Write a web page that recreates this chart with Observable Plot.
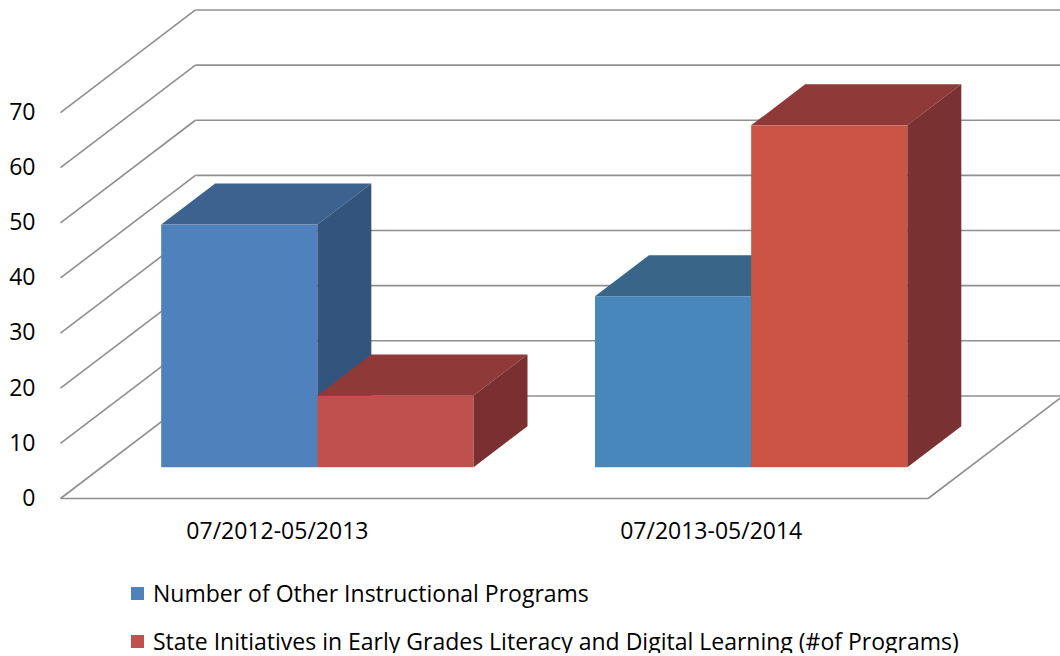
<!DOCTYPE html>
<html>
<head>
<meta charset="utf-8">
<script src="https://cdn.jsdelivr.net/npm/d3@7"></script>
<script src="https://cdn.jsdelivr.net/npm/@observablehq/plot@0.6"></script>
<style>
  html, body { margin: 0; padding: 0; background: #fff; }
  #chart { width: 1060px; }
  #chart svg { display: block; }
  .legend { padding-left: 131px; font-family: "Open Sans", sans-serif; font-size: 23px; color: #000; }
  .legend .item { height: 24px; line-height: 24px; display: flex; align-items: center; white-space: nowrap; }
  .legend .sw { width: 13px; height: 13px; margin-right: 9px; flex: none; }
</style>
</head>
<body>
<div id="chart"></div>
<script>
// ---- data ----
const categories = ["07/2012-05/2013", "07/2013-05/2014"];
const seriesNames = [
  "Number of Other Instructional Programs",
  "State Initiatives in Early Grades Literacy and Digital Learning (#of Programs)"
];
const otherPrograms = [44, 31];
const stateInitiatives = [13, 62];
const yTicks = [0, 10, 20, 30, 40, 50, 60, 70];

// ---- styling ----
const seriesColors = [
  {front: ["#4F81BD", "#4887BC"], top: ["#3D6290", "#386588"], side: ["#33557D", "#33557D"]},
  {front: ["#C0504D", "#CB5444"], top: ["#8F3A38", "#8F3A38"], side: ["#7A3030", "#7A3131"]}
];
const legendColors = ["#4F81BD", "#C0504D"];
const legendGaps = [21, 24];

// oblique projection: depth z in [0,1] (0 = front plane, 1 = back wall)
const depthX = 0.311;   // category units per unit of depth
const depthY = 18.6;    // value units per unit of depth
const barZ0 = 0.3, barZ1 = 0.7;
const barWidth = 0.36, barGap = 0.14;
const px = (x, z) => x + z * depthX;
const py = (y, z) => y + z * depthY;

const nCat = categories.length;
const values = [otherPrograms, stateInitiatives];

// walls
const leftWall = yTicks.map(v => ({x1: px(0, 0), y1: py(v, 0), x2: px(0, 1), y2: py(v, 1)}));
const backWall = yTicks.map(v => ({x1: px(0, 1), y1: py(v, 1), x2: px(nCat, 1), y2: py(v, 1)}));
const floorEdges = [
  {x1: px(0, 0), y1: py(0, 0), x2: px(nCat, 0), y2: py(0, 0)},
  {x1: px(nCat, 0), y1: py(0, 0), x2: px(nCat, 1), y2: py(0, 1)}
];

const gridStyle = {stroke: "#8f8f8f", strokeWidth: 1.6};
const marks = [
  Plot.link(leftWall, {x1: "x1", y1: "y1", x2: "x2", y2: "y2", ...gridStyle}),
  Plot.link(backWall, {x1: "x1", y1: "y1", x2: "x2", y2: "y2", ...gridStyle}),
  Plot.link(floorEdges, {x1: "x1", y1: "y1", x2: "x2", y2: "y2", ...gridStyle})
];

// bars (drawn category by category, series by series, for correct overlap)
for (let i = 0; i < nCat; i++) {
  for (let s = 0; s < values.length; s++) {
    const v = values[s][i];
    const xa = i + barGap + s * barWidth;
    const xb = xa + barWidth;
    const c = seriesColors[s];
    const front = [{x1: px(xa, barZ0), x2: px(xb, barZ0), y1: py(0, barZ0), y2: py(v, barZ0)}];
    const top = [
      {y: py(v, barZ0), x1: px(xa, barZ0), x2: px(xb, barZ0)},
      {y: py(v, barZ1), x1: px(xa, barZ1), x2: px(xb, barZ1)}
    ];
    const side = [
      {x: px(xb, barZ0), y1: py(0, barZ0), y2: py(v, barZ0)},
      {x: px(xb, barZ1), y1: py(0, barZ1), y2: py(v, barZ1)}
    ];
    marks.push(
      Plot.rect(front, {x1: "x1", x2: "x2", y1: "y1", y2: "y2", fill: c.front[i]}),
      Plot.areaX(top, {y: "y", x1: "x1", x2: "x2", fill: c.top[i]}),
      Plot.areaY(side, {x: "x", y1: "y1", y2: "y2", fill: c.side[i]})
    );
  }
}

const chart = Plot.plot({
  width: 1060,
  height: 560,
  marginLeft: 60,
  marginRight: 0,
  marginTop: 0,
  marginBottom: 62,
  style: {fontFamily: "'Open Sans', sans-serif", fontSize: "23px", color: "#000", background: "#fff", overflow: "hidden"},
  x: {
    domain: [0, px(nCat, 1)],
    range: [60, 60 + px(nCat, 1) * 433.8],
    ticks: categories.map((c, i) => i + 0.5),
    tickFormat: d => categories[Math.floor(d)],
    tickSize: 0,
    tickPadding: 24,
    label: null
  },
  y: {
    domain: [0, 90],
    range: [498, 498 - 90 * 5.514],
    ticks: yTicks,
    tickSize: 0,
    tickPadding: 25,
    label: null
  },
  marks
});
document.getElementById("chart").appendChild(chart);

// legend
const legend = document.createElement("div");
legend.className = "legend";
seriesNames.forEach((name, k) => {
  const item = document.createElement("div");
  item.className = "item";
  item.style.marginTop = legendGaps[k] + "px";
  const sw = document.createElement("span");
  sw.className = "sw";
  sw.style.background = legendColors[k];
  const label = document.createElement("span");
  label.textContent = name;
  item.appendChild(sw);
  item.appendChild(label);
  legend.appendChild(item);
});
document.getElementById("chart").appendChild(legend);
</script>
</body>
</html>
